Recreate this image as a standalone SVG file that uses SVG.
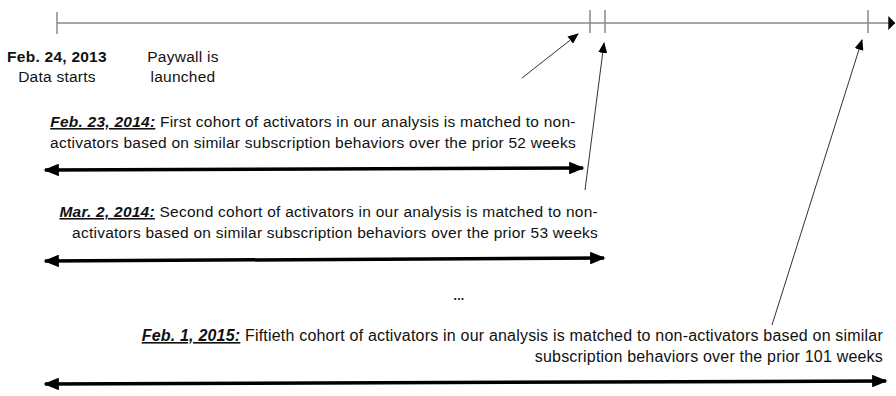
<svg xmlns="http://www.w3.org/2000/svg" width="896" height="396" viewBox="0 0 896 396">
<defs>
<style>
.t{font-family:"Liberation Sans",Arial,sans-serif;font-size:15.5px;letter-spacing:0.25px;fill:#111}
.w{font-size:16px;letter-spacing:0.2px}
.b{font-weight:bold}
.d{font-weight:bold;font-style:italic;text-decoration:underline}
.tl{stroke:#8a8a8a;stroke-width:1.5;fill:none}
.tick{stroke:#8a8a8a;stroke-width:1.5}
.dbl{stroke:#000;stroke-width:3.5;fill:none;marker-start:url(#big);marker-end:url(#big)}
.ptr{stroke:#333;stroke-width:1;fill:none;marker-end:url(#small)}
</style>
<marker id="big" viewBox="0 0 10 10" refX="9" refY="5" markerWidth="4.4" markerHeight="3.6" markerUnits="strokeWidth" orient="auto-start-reverse" preserveAspectRatio="none">
<path d="M0,0 L10,5 L0,10 Z" fill="#000"/>
</marker>
<marker id="small" viewBox="0 0 10 10" refX="9" refY="5" markerWidth="11" markerHeight="9" markerUnits="userSpaceOnUse" orient="auto" preserveAspectRatio="none">
<path d="M0,0 L10,5 L0,10 Z" fill="#000"/>
</marker>
<marker id="tlend" viewBox="0 0 10 10" refX="1" refY="5" markerWidth="7" markerHeight="14" markerUnits="userSpaceOnUse" orient="auto" preserveAspectRatio="none">
<path d="M0,0 L10,5 L0,10 Z" fill="#000"/>
</marker>
</defs>
<rect width="896" height="396" fill="#fff"/>
<g id="timeline">
<path class="tl" d="M57,23 H889" marker-end="url(#tlend)"/>
<line class="tick" x1="57" y1="12" x2="57" y2="34"/>
<line class="tick" x1="590" y1="10" x2="590" y2="33"/>
<line class="tick" x1="605" y1="10" x2="605" y2="33"/>
<line class="tick" x1="868" y1="10" x2="868" y2="33"/>
</g>
<g id="start-label">
<text class="t b" x="57" y="62" text-anchor="middle">Feb. 24, 2013</text>
<text class="t" x="57" y="82" text-anchor="middle">Data starts</text>
</g>
<g id="paywall-label">
<text class="t" x="183" y="62" text-anchor="middle">Paywall is</text>
<text class="t" x="183" y="82" text-anchor="middle">launched</text>
</g>
<g id="cohort1">
<text class="t" x="313" y="127" text-anchor="middle"><tspan class="d">Feb. 23, 2014:</tspan> First cohort of activators in our analysis is matched to non-</text>
<text class="t" x="313" y="148" text-anchor="middle">activators based on similar subscription behaviors over the prior 52 weeks</text>
</g>
<g id="cohort2">
<text class="t" x="598" y="217" text-anchor="end"><tspan class="d">Mar. 2, 2014:</tspan> Second cohort of activators in our analysis is matched to non-</text>
<text class="t" x="598" y="238" text-anchor="end">activators based on similar subscription behaviors over the prior 53 weeks</text>
</g>
<g id="ellipsis">
<text class="t b" x="459" y="300" text-anchor="middle" style="font-size:12px">...</text>
</g>
<g id="cohort50">
<text class="t w" x="883" y="341" text-anchor="end"><tspan class="d">Feb. 1, 2015:</tspan> Fiftieth cohort of activators in our analysis is matched to non-activators based on similar</text>
<text class="t w" x="883" y="362" text-anchor="end">subscription behaviors over the prior 101 weeks</text>
</g>
<g id="connectors">
<path class="dbl" d="M45,170 L583,168"/>
<path class="dbl" d="M45,261 L604,258"/>
<path class="dbl" d="M45,384 L886,381"/>
<path class="ptr" d="M522,78 L578,34"/>
<path class="ptr" d="M585,190 L604,43"/>
<path class="ptr" d="M772,325 L862,40"/>
</g>
</svg>
